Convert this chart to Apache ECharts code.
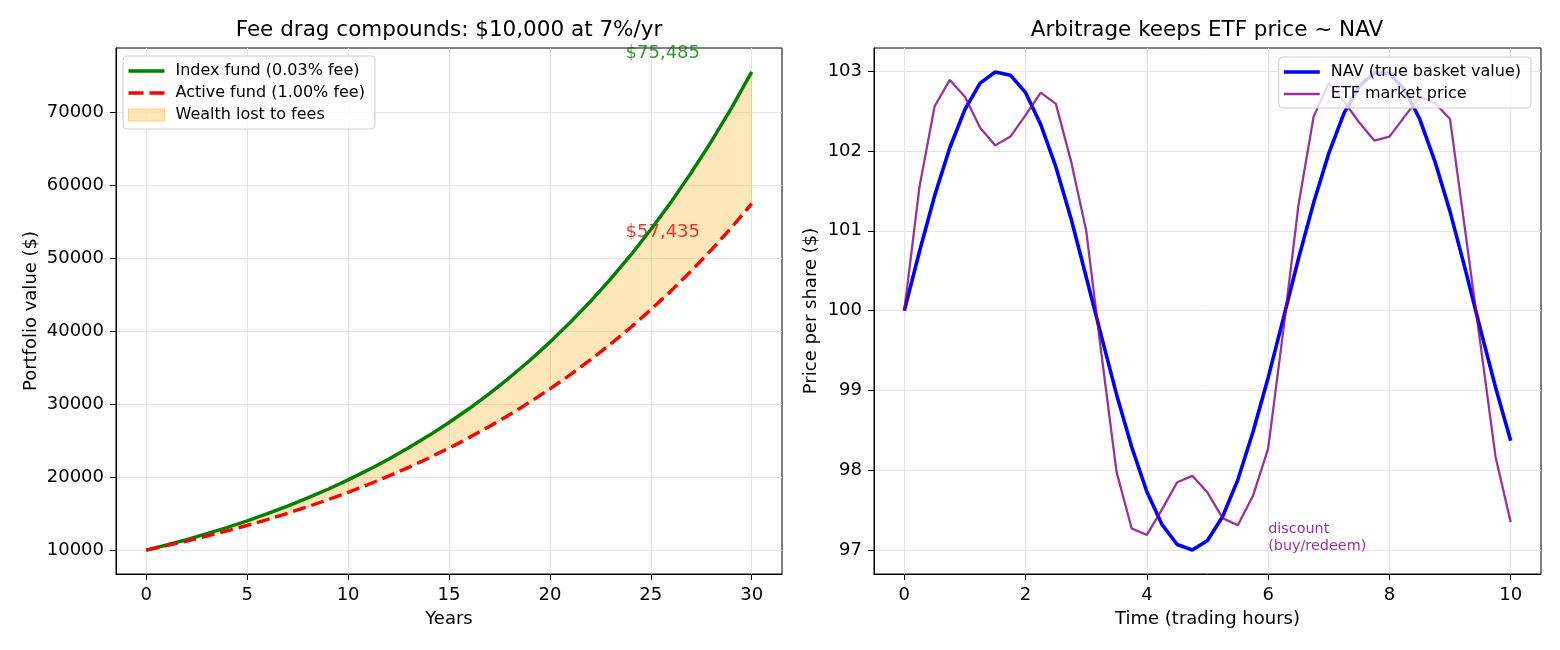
<!DOCTYPE html>
<html>
<head>
<meta charset="utf-8">
<title>Fee drag and ETF arbitrage</title>
<script src="https://cdn.jsdelivr.net/npm/echarts@6.0.0/dist/echarts.min.js"></script>
<style>
	html, body { margin: 0; padding: 0; background: #fff; }
	#main { width: 1560px; height: 650px; }
</style>
</head>
<body>
<div id="main"></div>
<script>
/*左图: 年份与两只基金的价值*/
var years = [0, 1, 2, 3, 4, 5, 6, 7, 8, 9, 10, 11, 12, 13, 14, 15, 16, 17, 18, 19, 20, 21, 22, 23, 24, 25, 26, 27, 28, 29, 30];
var indexFund = [10000, 10697, 11443, 12240, 13093, 14006, 14982, 16026, 17143, 18338, 19616, 20984, 22446, 24011, 25684, 27475,
	29389, 31438, 33629, 35973, 38480, 41163, 44032, 47101, 50383, 53895, 57652, 61670, 65968, 70566, 75485];
var activeFund = [10000, 10600, 11236, 11910, 12625, 13382, 14185, 15036, 15938, 16895, 17908, 18983, 20122, 21329, 22609, 23966,
	25404, 26928, 28543, 30256, 32071, 33996, 36035, 38198, 40489, 42919, 45494, 48223, 51117, 54184, 57435];
var yearTicks = [0, 5, 10, 15, 20, 25, 30];
var valueTicks = [10000, 20000, 30000, 40000, 50000, 60000, 70000];

/*右图: 交易时间, NAV 与 ETF 价格*/
var hours = [0, 0.25, 0.5, 0.75, 1, 1.25, 1.5, 1.75, 2, 2.25, 2.5, 2.75, 3, 3.25, 3.5, 3.75, 4, 4.25, 4.5, 4.75, 5,
	5.25, 5.5, 5.75, 6, 6.25, 6.5, 6.75, 7, 7.25, 7.5, 7.75, 8, 8.25, 8.5, 8.75, 9, 9.25, 9.5, 9.75, 10];
var nav = [100.00, 100.74, 101.44, 102.04, 102.52, 102.85, 102.99, 102.95, 102.73, 102.33, 101.80, 101.15, 100.42,
	99.68, 98.95, 98.29, 97.73, 97.32, 97.07, 97.00, 97.12, 97.42, 97.88, 98.48, 99.16, 99.90, 100.65, 101.35,
	101.97, 102.47, 102.81, 102.98, 102.97, 102.77, 102.40, 101.87, 101.24, 100.52, 99.77, 99.04, 98.37];
var etf = [100.00, 101.55, 102.56, 102.89, 102.68, 102.29, 102.07, 102.18, 102.45, 102.73, 102.59, 101.87, 101.00,
	99.46, 97.98, 97.27, 97.19, 97.51, 97.85, 97.93, 97.72, 97.40, 97.31, 97.68, 98.27, 99.75, 101.32, 102.43,
	102.85, 102.62, 102.36, 102.13, 102.18, 102.43, 102.68, 102.60, 102.40, 101.00, 99.59, 98.17, 97.35];
var hourTicks = [0, 2, 4, 6, 8, 10];
var priceTicks = [97, 98, 99, 100, 101, 102, 103];

var FONT = 'DejaVu Sans';
var GRID_LINE = '#e4e4e4';
/*图例里的线段图标 (实线 / 虚线)*/
var SOLID_ICON = 'path://M0,0h36v3.4h-36z';
var DASH_ICON = 'path://M0,0h15v3.4h-15z M21,0h15v3.4h-15z';

/*把两个数组拼成 [x, y]*/
function pairs(xs, ys) {
	var out = [];
	for(var i = 0; i < xs.length; i++) {
		out.push([xs[i], ys[i]]);
	}
	return out;
}

function money(v) {
	return '$' + Math.round(v).toLocaleString('en-US');
}

function makeXAxis(gridIndex, min, max, ticks, name) {
	return {
		type: 'value',
		gridIndex: gridIndex,
		min: min,
		max: max,
		name: name,
		nameLocation: 'middle',
		nameGap: 36,
		nameTextStyle: { color: '#000', fontSize: 18, fontFamily: FONT },
		axisLine: { show: true, onZero: false, lineStyle: { color: '#000', width: 1 } },
		axisTick: { show: true, length: 6, customValues: ticks, lineStyle: { color: '#000' } },
		axisLabel: { customValues: ticks, margin: 12, color: '#000', fontSize: 18, fontFamily: FONT },
		splitLine: { show: true, lineStyle: { color: GRID_LINE, width: 1 } }
	};
}

function makeYAxis(gridIndex, min, max, ticks, name, gap) {
	return {
		type: 'value',
		gridIndex: gridIndex,
		min: min,
		max: max,
		name: name,
		nameLocation: 'middle',
		nameRotate: 90,
		nameGap: gap,
		nameTextStyle: { color: '#000', fontSize: 18, fontFamily: FONT },
		axisLine: { show: true, onZero: false, lineStyle: { color: '#000', width: 1 } },
		axisTick: { show: true, length: 6, customValues: ticks, lineStyle: { color: '#000' } },
		axisLabel: {
			customValues: ticks, margin: 12, color: '#000', fontSize: 18, fontFamily: FONT,
			formatter: function(v) { return String(v); }
		},
		splitLine: { show: true, lineStyle: { color: GRID_LINE, width: 1 } }
	};
}

/*两条曲线之间的填充*/
function renderGap(params, api) {
	var pts = [];
	for(var i = 0; i < years.length; i++) {
		pts.push(api.coord([years[i], indexFund[i]]));
	}
	for(var k = years.length - 1; k >= 0; k--) {
		pts.push(api.coord([years[k], activeFund[k]]));
	}
	return {
		type: 'polygon',
		shape: { points: pts },
		style: { fill: 'rgba(255,165,0,0.27)', stroke: 'rgba(255,165,0,0.27)', lineWidth: 1 }
	};
}

function getOption() {
	var last = years.length - 1;
	var legendBox = {
		orient: 'vertical',
		itemWidth: 36,
		itemHeight: 12,
		itemGap: 6,
		symbolKeepAspect: true,
		padding: [7, 10, 6, 5],
		backgroundColor: 'rgba(255,255,255,0.8)',
		borderColor: '#cccccc',
		borderWidth: 1,
		borderRadius: 4,
		textStyle: { color: '#000', fontSize: 16, fontFamily: FONT, padding: [0, 0, 0, 6] }
	};
	return {
		animation: false,
		backgroundColor: '#fff',
		title: [{
			text: 'Fee drag compounds: $10,000 at 7%/yr',
			left: 449, top: 19, textAlign: 'center', padding: 0,
			textStyle: { color: '#000', fontSize: 21.5, fontWeight: 'normal', fontFamily: FONT }
		}, {
			text: 'Arbitrage keeps ETF price ~ NAV',
			left: 1207, top: 19, textAlign: 'center', padding: 0,
			textStyle: { color: '#000', fontSize: 21.5, fontWeight: 'normal', fontFamily: FONT }
		}],
		legend: [
			Object.assign({}, legendBox, {
				left: 123, top: 56,
				data: [{
					name: 'Index fund (0.03% fee)', icon: SOLID_ICON,
					itemStyle: { color: '#008000', borderWidth: 0 }
				}, {
					name: 'Active fund (1.00% fee)', icon: DASH_ICON,
					itemStyle: { color: '#ff0000', borderWidth: 0 }
				}, {
					name: 'Wealth lost to fees', icon: 'rect',
					itemStyle: { color: 'rgba(255,165,0,0.27)', borderColor: 'rgba(255,165,0,0.45)', borderWidth: 1 }
				}]
			}),
			Object.assign({}, legendBox, {
				right: 29, top: 57,
				data: [{
					name: 'NAV (true basket value)', icon: SOLID_ICON,
					itemStyle: { color: '#0000ff', borderWidth: 0 }
				}, {
					name: 'ETF market price', icon: 'path://M0,0h36v2.3h-36z',
					itemStyle: { color: 'rgba(128,0,128,0.8)', borderWidth: 0 }
				}]
			})
		],
		grid: [{
			left: 116, top: 48, width: 666, height: 526,
			show: true, borderColor: '#000', borderWidth: 1, backgroundColor: 'transparent'
		}, {
			left: 874, top: 48, width: 667, height: 526,
			show: true, borderColor: '#000', borderWidth: 1, backgroundColor: 'transparent'
		}],
		xAxis: [
			makeXAxis(0, -1.5, 31.5, yearTicks, 'Years'),
			makeXAxis(1, -0.5, 10.5, hourTicks, 'Time (trading hours)')
		],
		yAxis: [
			makeYAxis(0, 6726, 78759, valueTicks, 'Portfolio value ($)', 76),
			makeYAxis(1, 96.70, 103.29, priceTicks, 'Price per share ($)', 54)
		],
		series: [{
			name: 'Wealth lost to fees',
			type: 'custom',
			xAxisIndex: 0, yAxisIndex: 0,
			silent: true,
			itemStyle: { color: 'rgba(255,165,0,0.27)' },
			renderItem: renderGap,
			data: [[years[0], activeFund[0]]]
		}, {
			name: 'Index fund (0.03% fee)',
			type: 'line',
			xAxisIndex: 0, yAxisIndex: 0,
			symbol: 'none',
			itemStyle: { color: '#008000' },
			lineStyle: { color: '#008000', width: 3.4 },
			data: pairs(years, indexFund)
		}, {
			name: 'Active fund (1.00% fee)',
			type: 'line',
			xAxisIndex: 0, yAxisIndex: 0,
			symbol: 'none',
			itemStyle: { color: '#ff0000' },
			lineStyle: { color: '#ff0000', width: 3.4, type: [13, 6] },
			data: pairs(years, activeFund)
		}, {
			/*终值标注*/
			type: 'scatter',
			xAxisIndex: 0, yAxisIndex: 0,
			symbolSize: 0,
			silent: true,
			data: [{
				value: [23.75, 78000],
				label: { show: true, position: 'right', distance: 0, formatter: money(indexFund[last]), color: '#008000', fontSize: 18, fontFamily: FONT }
			}, {
				value: [23.75, 53550],
				label: { show: true, position: 'right', distance: 0, formatter: money(activeFund[last]), color: '#ff0000', fontSize: 18, fontFamily: FONT }
			}]
		}, {
			name: 'NAV (true basket value)',
			type: 'line',
			xAxisIndex: 1, yAxisIndex: 1,
			symbol: 'none',
			itemStyle: { color: '#0000ff' },
			lineStyle: { color: '#0000ff', width: 3.6 },
			data: pairs(hours, nav)
		}, {
			name: 'ETF market price',
			type: 'line',
			xAxisIndex: 1, yAxisIndex: 1,
			symbol: 'none',
			itemStyle: { color: 'rgba(128,0,128,0.8)' },
			lineStyle: { color: 'rgba(128,0,128,0.8)', width: 2.3 },
			data: pairs(hours, etf)
		}, {
			type: 'scatter',
			xAxisIndex: 1, yAxisIndex: 1,
			symbolSize: 0,
			silent: true,
			data: [{
				value: [6, 97.16],
				label: {
					show: true, position: 'right', distance: 0, align: 'left',
					formatter: 'discount\n(buy/redeem)', color: '#800080', fontSize: 14.4, lineHeight: 17, fontFamily: FONT
				}
			}]
		}]
	};
}

echarts.init(document.getElementById('main')).setOption(getOption());
</script>
</body>
</html>
